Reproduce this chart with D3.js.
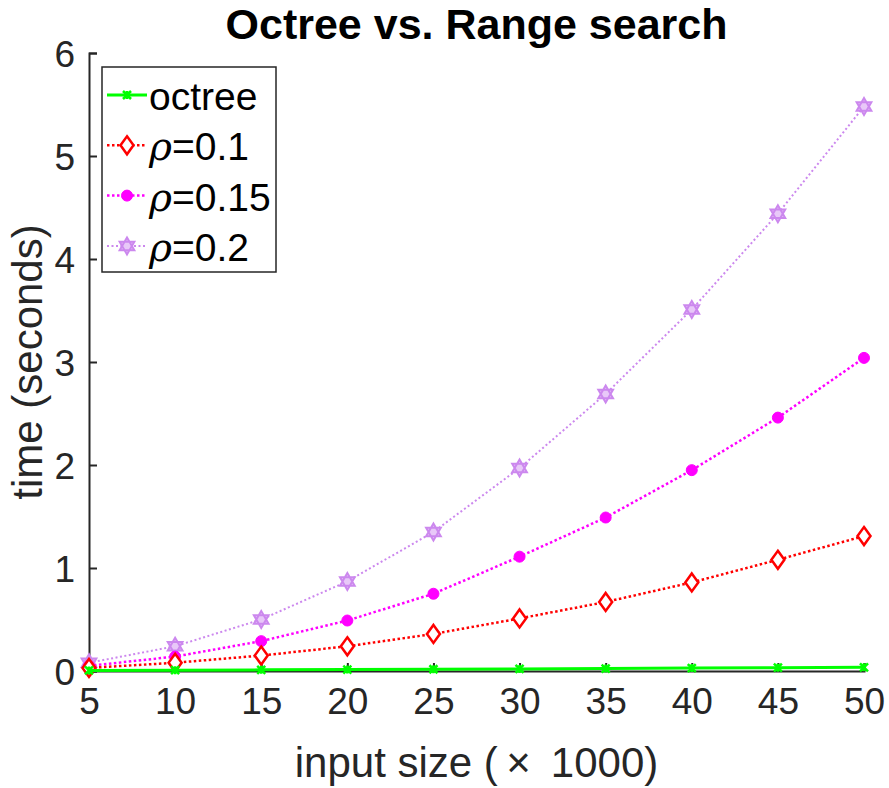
<!DOCTYPE html>
<html>
<head>
<meta charset="utf-8">
<script src="https://cdn.jsdelivr.net/npm/d3@7/dist/d3.min.js"></script>
<style>
  body { margin: 0; background: #fff; }
  text { font-family: "Liberation Sans", Arial, Helvetica, sans-serif; }
</style>
</head>
<body>
<svg id="chart" width="889" height="788"></svg>
<script>
// data
var inputSizes = [5, 10, 15, 20, 25, 30, 35, 40, 45, 50];
var octreeTimes = [0.005, 0.008, 0.011, 0.014, 0.017, 0.020, 0.024, 0.028, 0.032, 0.036];
var rho010Times = [0.03, 0.08, 0.15, 0.24, 0.36, 0.51, 0.67, 0.86, 1.08, 1.31];
var rho015Times = [0.05, 0.14, 0.29, 0.49, 0.75, 1.11, 1.49, 1.95, 2.46, 3.04];
var rho020Times = [0.08, 0.24, 0.50, 0.87, 1.35, 1.97, 2.69, 3.51, 4.44, 5.48];
var xTicks = [5, 10, 15, 20, 25, 30, 35, 40, 45, 50];
var yTicks = [0, 1, 2, 3, 4, 5, 6];
var seriesNames = ["octree", "0.1", "0.15", "0.2"];

var svg = d3.select("#chart");
var axisColor = "#262626";

// plot box (don't call it "top", window.top is taken)
var plotLeft = 89, plotRight = 864, plotTop = 53, plotBottom = 671;

var x = d3.scaleLinear().domain([5, 50]).range([plotLeft, plotRight]);
var y = d3.scaleLinear().domain([0, 6]).range([plotBottom, plotTop]);

// title
svg.append("text")
	.attr("x", (plotLeft + plotRight) / 2)
	.attr("y", 39)
	.attr("text-anchor", "middle")
	.attr("font-size", 43)
	.attr("font-weight", "bold")
	.attr("fill", "#000")
	.text("Octree vs. Range search");

// axes (ticks point inward, matlab style)
var xAxis = svg.append("g")
	.attr("transform", "translate(0," + plotBottom + ")")
	.call(d3.axisBottom(x).tickValues(xTicks).tickFormat(d3.format("d")).tickSize(-8).tickPadding(14));
var yAxis = svg.append("g")
	.attr("transform", "translate(" + plotLeft + ",0)")
	.call(d3.axisLeft(y).tickValues(yTicks).tickFormat(d3.format("d")).tickSize(-8).tickPadding(14));

[xAxis, yAxis].forEach(function(ax){
	ax.select(".domain").attr("stroke", axisColor).attr("stroke-width", 2);
	ax.selectAll(".tick line").attr("stroke", axisColor).attr("stroke-width", 2);
	ax.selectAll(".tick text")
		.attr("fill", axisColor)
		.attr("font-size", 37)
		.attr("font-family", "Liberation Sans, Arial, sans-serif");
});
xAxis.selectAll(".tick text").attr("dy", "0.78em");
yAxis.selectAll(".tick text").attr("dy", "0.36em");

// axis labels
svg.append("text")
	.attr("x", (plotLeft + plotRight) / 2)
	.attr("y", 777)
	.attr("text-anchor", "middle")
	.attr("font-size", 42)
	.attr("fill", axisColor)
	.text("input size (\u2009\u00D7\u2009 1000)");

svg.append("text")
	.attr("transform", "translate(42," + (plotTop + plotBottom) / 2 + ") rotate(-90)")
	.attr("text-anchor", "middle")
	.attr("font-size", 42)
	.attr("fill", axisColor)
	.text("time (seconds)");

// marker shapes
function diamondPath(w, h){
	return "M0," + (-h/2) + "L" + (w/2) + ",0L0," + (h/2) + "L" + (-w/2) + ",0Z";
}
function hexagramPath(r){
	var p = "";
	for (var t = 0; t < 2; t++) {
		for (var k = 0; k < 3; k++) {
			var a = (t * 60 + k * 120 - 90) * Math.PI / 180;
			p += (k == 0 ? "M" : "L") + (r * Math.cos(a)).toFixed(2) + "," + (r * Math.sin(a)).toFixed(2);
		}
		p += "Z";
	}
	return p;
}
function crossPath(s){
	return "M" + (-s) + "," + (-s) + "L" + s + "," + s + "M" + (-s) + "," + s + "L" + s + "," + (-s) +
		"M0," + (-s) + "L0," + s;
}

var series = [
	{ name: seriesNames[0], values: octreeTimes, color: "#00ff00", width: 3, dash: null,
	  marker: crossPath(4), mfill: "none", mstroke: "#00ff00", mwidth: 2.5 },
	{ name: seriesNames[1], values: rho010Times, color: "#ff0000", width: 2.5, dash: "2.5,2.5",
	  marker: diamondPath(13, 18), mfill: "#fff", mstroke: "#ff0000", mwidth: 2.5 },
	{ name: seriesNames[2], values: rho015Times, color: "#ff00ff", width: 2.5, dash: "2.5,2.5",
	  marker: d3.symbol().type(d3.symbolCircle).size(95)(), mfill: "#ff00ff", mstroke: "#ff00ff", mwidth: 1 },
	{ name: seriesNames[3], values: rho020Times, color: "#cc88ee", width: 2, dash: "2,2.5",
	  marker: hexagramPath(8.5), mfill: "#e8c8f8", mstroke: "#cc88ee", mwidth: 2 }
];

var line = d3.line()
	.x(function(d){ return x(d[0]); })
	.y(function(d){ return y(d[1]); });

var plot = svg.append("g").attr("id", "plot");

// draw back to front: lavender first, octree on top
series.slice().reverse().forEach(function(s){
	var pts = inputSizes.map(function(v, i){ return [v, s.values[i]]; });
	plot.append("path")
		.datum(pts)
		.attr("d", line)
		.attr("fill", "none")
		.attr("stroke", s.color)
		.attr("stroke-width", s.width)
		.attr("stroke-dasharray", s.dash);
	plot.selectAll(null)
		.data(pts)
		.enter().append("path")
		.attr("transform", function(d){ return "translate(" + x(d[0]) + "," + y(d[1]) + ")"; })
		.attr("d", s.marker)
		.attr("fill", s.mfill)
		.attr("stroke", s.mstroke)
		.attr("stroke-width", s.mwidth);
});

// legend
var legend = svg.append("g").attr("id", "legend");
legend.append("rect")
	.attr("x", 102).attr("y", 67)
	.attr("width", 174).attr("height", 205)
	.attr("fill", "#fff")
	.attr("stroke", axisColor)
	.attr("stroke-width", 1.5);

series.forEach(function(s, i){
	var ly = 95 + i * 50.3;
	var row = legend.append("g").attr("transform", "translate(0," + ly + ")");
	row.append("line")
		.attr("x1", 107).attr("x2", 147)
		.attr("y1", 0).attr("y2", 0)
		.attr("stroke", s.color)
		.attr("stroke-width", s.width)
		.attr("stroke-dasharray", s.dash);
	row.append("path")
		.attr("transform", "translate(127,0)")
		.attr("d", s.marker)
		.attr("fill", s.mfill)
		.attr("stroke", s.mstroke)
		.attr("stroke-width", s.mwidth);
	var t = row.append("text")
		.attr("x", 149)
		.attr("y", 15)
		.attr("font-size", 39)
		.attr("fill", "#000");
	if (i == 0) {
		t.text(s.name);
	} else {
		t.append("tspan").attr("font-style", "italic").attr("font-family", "DejaVu Serif, serif").text("\u03C1");
		t.append("tspan").text("=" + s.name);
	}
});
</script>
</body>
</html>
